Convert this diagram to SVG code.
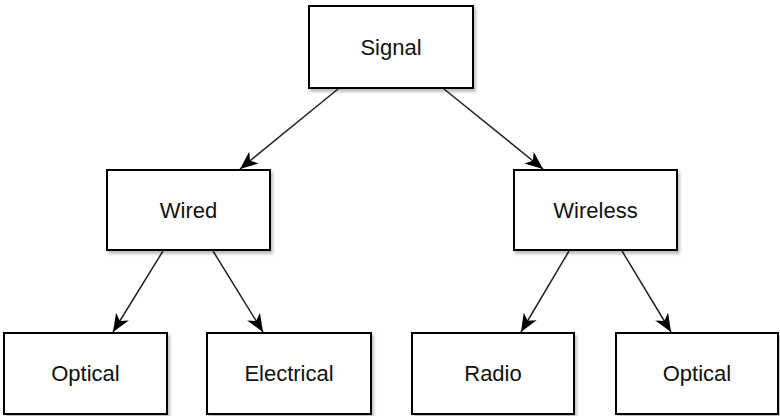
<svg xmlns="http://www.w3.org/2000/svg" width="780" height="416" viewBox="0 0 780 416">
  <defs>
    <filter id="sh" x="-10%" y="-10%" width="130%" height="140%">
      <feDropShadow dx="2" dy="3" stdDeviation="1.6" flood-color="#000" flood-opacity="0.25"/>
    </filter>
    <marker id="arr" markerUnits="userSpaceOnUse" markerWidth="20" markerHeight="16" refX="18" refY="7.5" orient="auto">
      <path d="M0,0 L18,7.5 L0,15 L5,7.5 Z" fill="#000"/>
    </marker>
    <style>
      .box { fill: #fff; stroke: #000; stroke-width: 2; filter: url(#sh); }
      .lbl { font-family: "Liberation Sans", Arial, Helvetica, sans-serif; font-size: 22px; fill: #111; text-anchor: middle; }
      .edge { stroke: #222; stroke-width: 1.5; fill: none; marker-end: url(#arr); }
    </style>
  </defs>
  <rect width="780" height="416" fill="#fff"/>
  <g id="connectors">
    <line class="edge" x1="338" y1="89" x2="240" y2="169"/>
    <line class="edge" x1="444" y1="89" x2="543" y2="169"/>
    <line class="edge" x1="163" y1="251" x2="113" y2="332"/>
    <line class="edge" x1="213" y1="251" x2="263" y2="332"/>
    <line class="edge" x1="569" y1="251" x2="521" y2="332"/>
    <line class="edge" x1="622" y1="251" x2="671" y2="332"/>
  </g>
  <g id="signal">
    <rect class="box" x="309" y="6" width="164" height="82"/>
    <text class="lbl" x="391" y="55">Signal</text>
  </g>
  <g id="wired">
    <rect class="box" x="107" y="170" width="163" height="80"/>
    <text class="lbl" x="188.5" y="218">Wired</text>
  </g>
  <g id="wireless">
    <rect class="box" x="514" y="170" width="163" height="80"/>
    <text class="lbl" x="595.5" y="218">Wireless</text>
  </g>
  <g id="optical-wired">
    <rect class="box" x="4" y="333" width="163" height="81"/>
    <text class="lbl" x="85.5" y="381">Optical</text>
  </g>
  <g id="electrical">
    <rect class="box" x="207" y="333" width="164" height="81"/>
    <text class="lbl" x="289" y="381">Electrical</text>
  </g>
  <g id="radio">
    <rect class="box" x="412" y="333" width="162" height="81"/>
    <text class="lbl" x="493" y="381">Radio</text>
  </g>
  <g id="optical-wireless">
    <rect class="box" x="616" y="333" width="162" height="81"/>
    <text class="lbl" x="697" y="381">Optical</text>
  </g>
</svg>
